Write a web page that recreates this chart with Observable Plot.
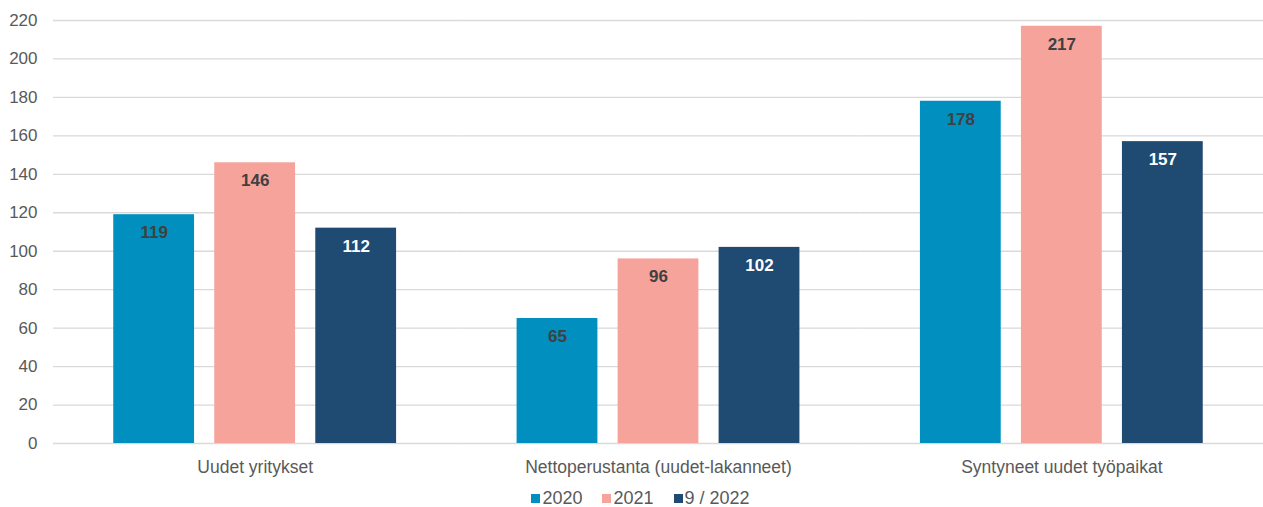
<!DOCTYPE html>
<html>
<head>
<meta charset="utf-8">
<script src="https://cdn.jsdelivr.net/npm/d3@7"></script>
<script src="https://cdn.jsdelivr.net/npm/@observablehq/plot@0.6"></script>
<style>
  html, body { margin: 0; padding: 0; background: #fff; }
  #chart svg { display: block; }
  .legend { display: flex; justify-content: center; align-items: center; height: 27px; margin-top: 5px;
    font-family: "Liberation Sans", Arial, sans-serif; font-size: 18px; color: #595959; padding-left: 18px; }
  .legend .item { display: flex; align-items: center; margin: 0 10px; }
  .legend .sw { width: 9px; height: 9px; margin-right: 2px; }
</style>
</head>
<body>
<div id="chart"></div>
<script>
const groups = ["Uudet yritykset", "Nettoperustanta (uudet-lakanneet)", "Syntyneet uudet työpaikat"];
const series = ["2020", "2021", "9 / 2022"];
const values2020 = [119, 65, 178];
const values2021 = [146, 96, 217];
const values2022 = [112, 102, 157];
const colors = ["#008FBE", "#F6A39C", "#1F4A72"];
const yTicks = [0, 20, 40, 60, 80, 100, 120, 140, 160, 180, 200, 220];

const seriesValues = [values2020, values2021, values2022];
const data = [];
groups.forEach((g, gi) => series.forEach((s, si) => data.push({group: g, series: s, value: seriesValues[si][gi]})));

const font = "'Liberation Sans', Arial, sans-serif";
const chart = Plot.plot({
  width: 1263,
  height: 480,
  marginLeft: 53,
  marginRight: 0,
  marginTop: 20,
  marginBottom: 37,
  style: {fontFamily: font, fontSize: "17px", color: "#595959", background: "white"},
  fx: {domain: groups, padding: 0, label: null, round: false},
  x: {domain: series, paddingInner: 0.2, paddingOuter: 0.5965, axis: null, round: false},
  y: {domain: [0, 220], ticks: yTicks, label: null, tickSize: 0, tickPadding: 16},
  color: {domain: series, range: colors},
  marks: [
    Plot.ruleY(yTicks, {stroke: "#d9d9d9", strokeWidth: 1.3}),
    Plot.axisFx({anchor: "bottom", tickSize: 0, tickPadding: 17, label: null, fontSize: 17.5}),
    Plot.barY(data, {fx: "group", x: "series", y: "value", fill: "series"}),
    Plot.text(data.filter(d => d.series !== "9 / 2022"), {fx: "group", x: "series", y: "value", text: d => String(d.value), dy: 18, fill: "#404040", fontWeight: "bold", fontSize: 17}),
    Plot.text(data.filter(d => d.series === "9 / 2022"), {fx: "group", x: "series", y: "value", text: d => String(d.value), dy: 18, fill: "white", fontWeight: "bold", fontSize: 17})
  ]
});
document.getElementById("chart").appendChild(chart);

const legend = document.createElement("div");
legend.className = "legend";
series.forEach((s, i) => {
  const item = document.createElement("div");
  item.className = "item";
  const sw = document.createElement("span");
  sw.className = "sw";
  sw.style.background = colors[i];
  const t = document.createElement("span");
  t.textContent = s;
  item.appendChild(sw);
  item.appendChild(t);
  legend.appendChild(item);
});
document.body.appendChild(legend);
</script>
</body>
</html>
